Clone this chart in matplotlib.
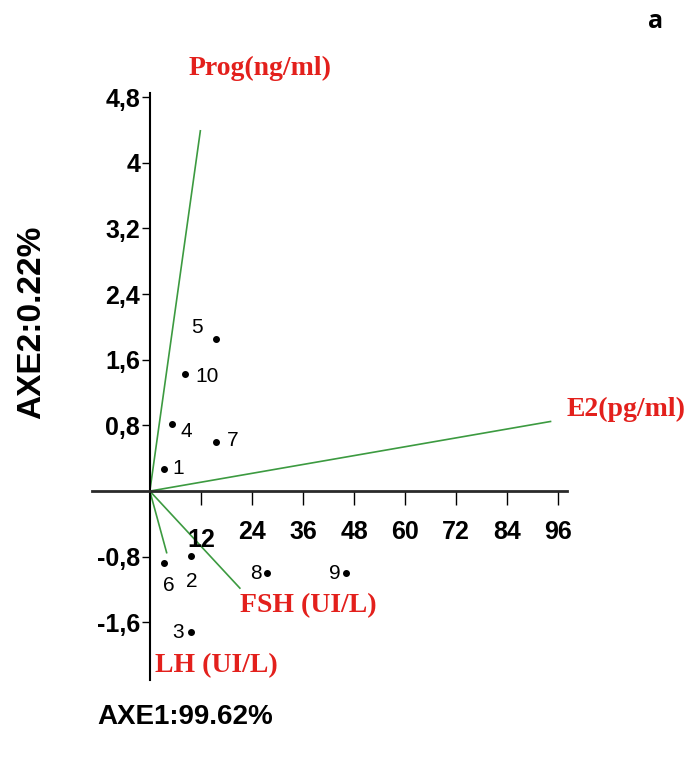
import matplotlib
matplotlib.use("Agg")
import matplotlib.pyplot as plt

# observations (PCA scores)
obs_ids = ["1", "2", "3", "4", "5", "6", "7", "8", "9", "10"]
obs_x = [3.3, 9.6, 9.6, 5.2, 15.5, 3.3, 15.5, 27.6, 46.1, 8.2]
obs_y = [0.27, -0.79, -1.72, 0.82, 1.85, -0.88, 0.60, -1.00, -1.00, 1.43]

# variable loadings
var_names = ["Prog(ng/ml)", "E2(pg/ml)", "FSH (UI/L)", "LH (UI/L)"]
var_x = [11.9, 94.4, 21.3, 4.0]
var_y = [4.40, 0.85, -1.19, -0.76]

xticks = [12, 24, 36, 48, 60, 72, 84, 96]
yticks = [4.8, 4.0, 3.2, 2.4, 1.6, 0.8, -0.8, -1.6]
ytick_labels = ["4,8", "4", "3,2", "2,4", "1,6", "0,8", "-0,8", "-1,6"]

# label layout: offsets in pixels and alignment for each point
lab_off = {"1": (8, 0, "left"), "2": (1, -26, "center"), "3": (-7, 0, "right"),
           "4": (9, -8, "left"), "5": (-19, 12, "center"), "6": (5, -22, "center"),
           "7": (11, 1, "left"), "8": (-5, 0, "right"), "9": (-5, 0, "right"),
           "10": (11, -3, "left")}
# variable label anchors (data coords) and alignment
var_lab = [(25.8, 5.15, "center"), (97.9, 0.99, "left"),
           (21.3, -1.39, "left"), (1.2, -2.13, "left")]

sans = "Liberation Sans"
red = "#e3201c"
green = "#3c9a40"

fig = plt.figure(figsize=(6.97, 7.63), dpi=100)
ax = fig.add_axes([0.132, 0.109, 0.681, 0.769])
ax.set_xlim(-13.6, 98)
ax.set_ylim(-2.30, 4.85)

for s in ["top", "right"]:
    ax.spines[s].set_visible(False)
ax.spines["left"].set_position(("data", 0))
ax.spines["bottom"].set_position(("data", 0))
ax.spines["left"].set_linewidth(1.5)
ax.spines["bottom"].set_linewidth(2)
ax.spines["bottom"].set_color("#2a2a2a")

ax.set_xticks(xticks)
ax.set_xticklabels([""] + [str(t) for t in xticks[1:]], fontfamily=sans,
                   fontweight="bold", fontsize=18)
ax.tick_params(axis="x", direction="out", length=10, width=1, pad=11)
ax.text(12, -0.60, "12", ha="center", va="center", fontfamily=sans,
        fontweight="bold", fontsize=18)

ax.set_yticks(yticks)
ax.set_yticklabels(ytick_labels, fontfamily=sans, fontweight="bold", fontsize=18)
ax.tick_params(axis="y", direction="out", length=6, width=1, pad=1)

# loading vectors
for vx, vy in zip(var_x, var_y):
    ax.plot([0, vx], [0, vy], color=green, lw=1.2, solid_capstyle="butt")

for name, (tx, ty, ha) in zip(var_names, var_lab):
    ax.text(tx, ty, name, color=red, fontfamily="Liberation Serif",
            fontweight="bold", fontsize=20, ha=ha, va="center", clip_on=False)

# observation scores
ax.plot(obs_x, obs_y, "o", color="black", ms=4, ls="none")
for lab, px, py in zip(obs_ids, obs_x, obs_y):
    dx, dy, ha = lab_off[lab]
    ax.annotate(lab, (px, py), xytext=(dx, dy), textcoords="offset pixels",
                ha=ha, va="center", fontfamily=sans, fontsize=15)

fig.text(0.046, 0.577, "AXE2:0.22%", rotation=90, ha="center", va="center",
         fontfamily=sans, fontweight="bold", fontsize=24)
fig.text(0.265, 0.060, "AXE1:99.62%", ha="center", va="center",
         fontfamily=sans, fontweight="bold", fontsize=20)
fig.text(0.94, 0.972, "a", ha="center", va="center",
         fontfamily="Open Sans", fontweight="bold", fontsize=18)

fig.savefig("out.png", dpi=100)
